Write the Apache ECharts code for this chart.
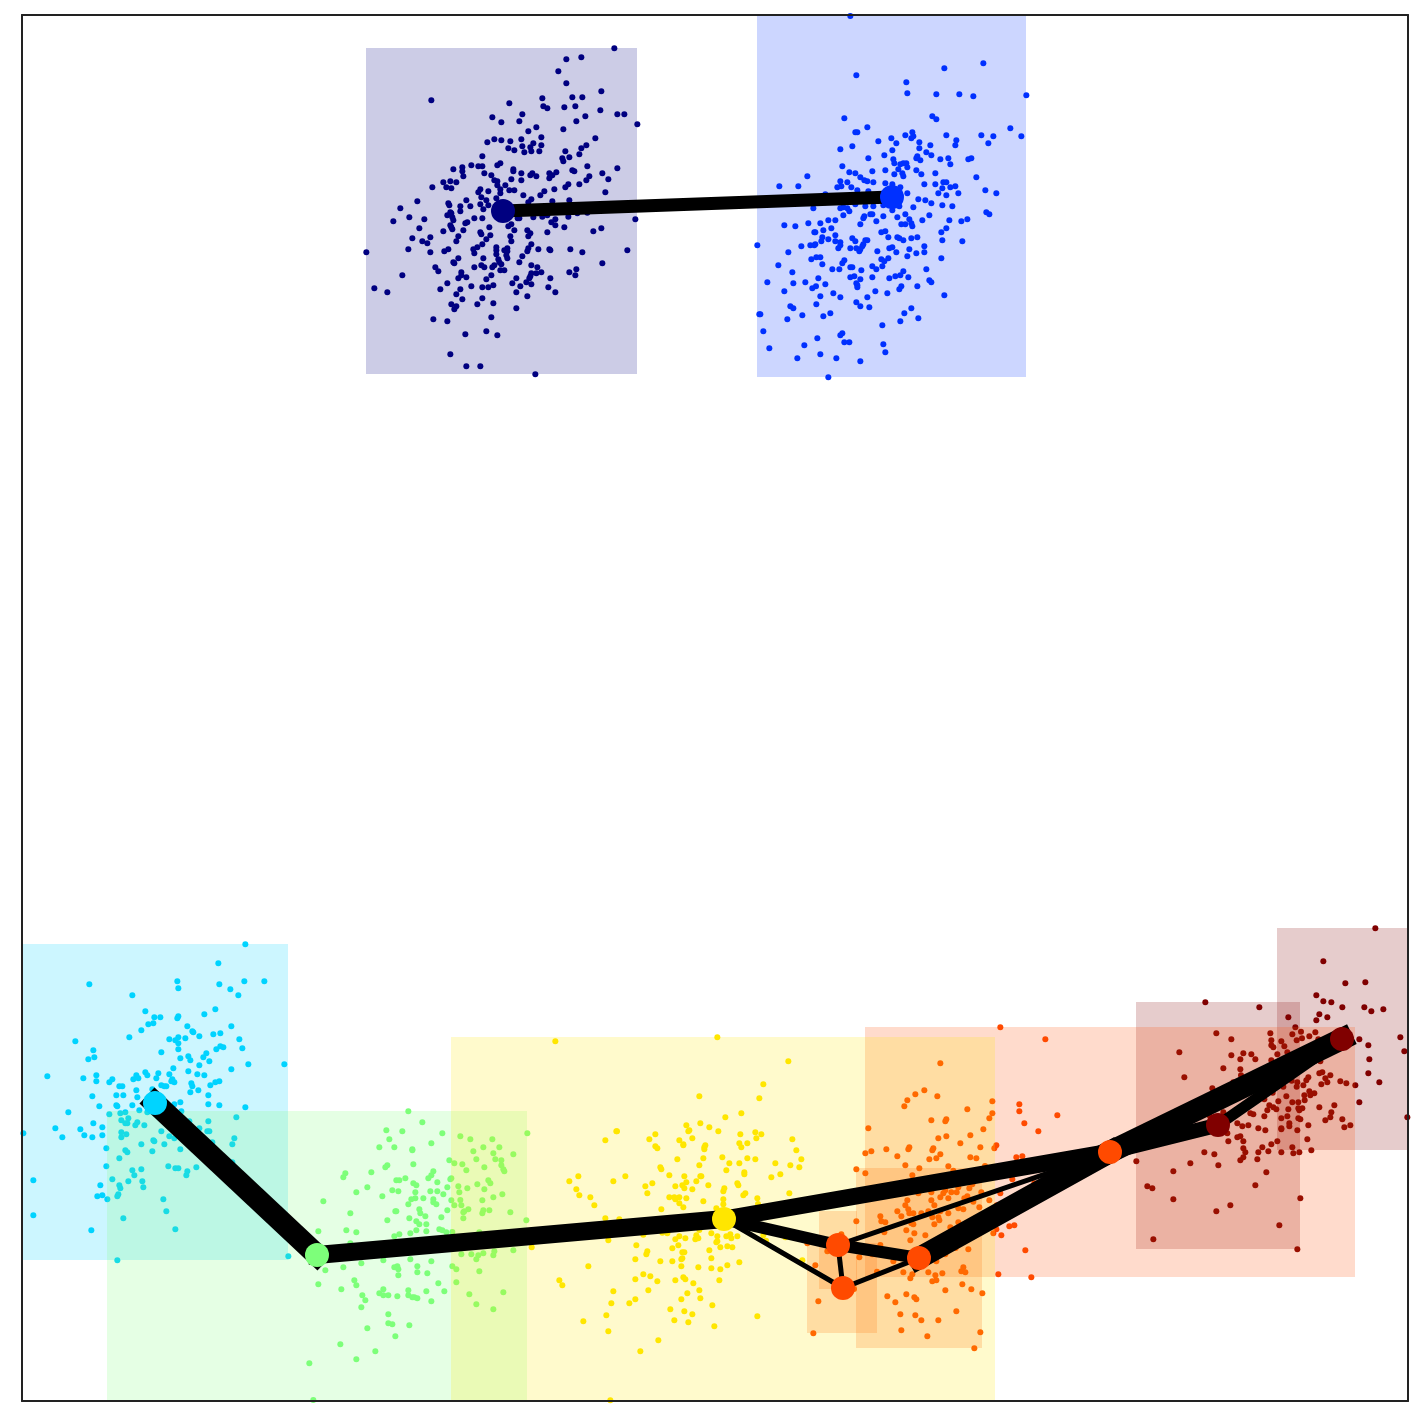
<!DOCTYPE html>
<html>
<head>
<meta charset="utf-8">
<style>html,body{margin:0;padding:0;background:#fff}#chart{width:1423px;height:1423px}</style>
<script src="https://cdn.jsdelivr.net/npm/echarts@6/dist/echarts.min.js"></script>
</head>
<body>
<div id="chart"></div>
<script>
const navyCrop = [360, 40];
const navyPoints = [[763,25],[619,58],[664,52],[595,94],[619,130],[724,154],[214,181],[448,190],[547,175],[637,172],[667,172],[550,199],[562,205],[613,202],[646,199],[721,211],[772,223],[793,223],[487,223],[397,232],[676,229],[424,247],[478,244],[649,244],[832,253],[529,262],[505,274],[610,268],[544,292],[484,298],[403,298],[424,301],[382,307],[451,304],[706,295],[544,316],[487,319],[520,310],[511,322],[445,325],[463,331],[493,337],[514,334],[538,334],[679,316],[664,325],[616,334],[658,343],[367,349],[628,352],[607,355],[610,364],[421,370],[412,376],[334,376],[355,379],[367,379],[307,382],[280,388],[682,379],[772,385],[307,394],[460,388],[460,394],[637,391],[643,394],[589,397],[568,400],[484,400],[373,400],[310,409],[394,406],[517,400],[511,406],[529,409],[577,406],[727,400],[568,415],[688,409],[745,418],[454,418],[484,421],[403,421],[412,424],[679,421],[250,427],[271,424],[289,427],[658,433],[625,433],[616,442],[412,436],[436,436],[217,442],[259,442],[274,445],[361,448],[448,451],[463,451],[583,448],[553,454],[736,457],[355,457],[421,448],[421,460],[385,454],[490,466],[541,466],[364,472],[409,475],[514,478],[172,484],[319,481],[379,481],[628,481],[577,484],[265,490],[268,496],[361,493],[385,496],[301,499],[331,499],[505,487],[121,505],[370,508],[301,514],[271,517],[274,520],[262,526],[277,532],[148,532],[343,535],[367,535],[193,538],[280,541],[100,544],[826,538],[322,547],[316,550],[271,556],[274,562],[178,565],[277,568],[250,574],[310,571],[445,559],[454,553],[388,562],[463,571],[502,571],[511,580],[505,589],[586,538],[574,547],[586,556],[613,562],[562,577],[700,574],[724,565],[361,577],[364,583],[391,586],[295,589],[157,595],[211,592],[379,598],[451,589],[187,604],[202,610],[289,604],[454,604],[367,613],[514,613],[352,622],[340,628],[145,628],[265,628],[253,634],[211,637],[343,640],[409,622],[409,631],[433,631],[442,625],[442,634],[505,625],[502,634],[535,628],[568,628],[571,631],[631,628],[667,637],[802,631],[409,643],[439,646],[442,655],[487,649],[295,655],[370,655],[415,658],[478,667],[280,667],[283,670],[418,667],[727,670],[364,676],[373,682],[343,682],[226,682],[403,676],[397,682],[424,673],[514,676],[532,682],[235,694],[304,697],[421,691],[433,691],[514,700],[529,700],[544,697],[628,697],[649,688],[646,706],[127,706],[304,706],[394,706],[511,709],[508,715],[295,715],[319,712],[379,718],[469,715],[571,715],[262,730],[457,730],[499,727],[514,733],[334,739],[367,742],[385,742],[400,736],[481,739],[565,742],[241,748],[301,748],[43,745],[82,757],[469,757],[586,757],[289,763],[502,769],[307,778],[367,775],[274,793],[352,793],[400,790],[289,799],[283,808],[469,805],[220,838],[262,844],[394,832],[316,883],[379,874],[412,886],[271,943],[319,979],[361,979],[526,1003],[19,637],[625,530],[547,530],[562,526],[520,532],[473,535],[478,535],[652,520],[682,518]];

const blueCrop = [750, 10];
const bluePoints = [[301,18],[700,160],[583,175],[319,196],[469,217],[472,250],[559,253],[628,253],[670,259],[829,256],[283,325],[547,319],[559,328],[352,352],[316,367],[322,367],[781,355],[487,367],[466,376],[589,376],[694,376],[730,379],[814,379],[424,385],[484,385],[490,379],[385,394],[439,400],[508,397],[619,391],[616,406],[715,400],[541,406],[307,409],[271,418],[427,421],[508,415],[529,427],[544,436],[403,436],[355,445],[499,445],[502,439],[511,451],[430,448],[571,448],[595,445],[655,448],[664,445],[433,460],[601,463],[277,469],[451,463],[469,460],[460,460],[472,472],[445,478],[457,490],[460,499],[367,484],[406,481],[298,487],[316,490],[433,493],[499,481],[514,493],[556,490],[172,499],[679,502],[331,502],[343,511],[352,514],[271,514],[292,517],[370,517],[88,529],[145,529],[406,520],[523,523],[556,523],[580,517],[589,517],[616,529],[262,532],[274,529],[304,532],[577,535],[601,532],[322,541],[427,523],[451,532],[706,541],[226,553],[355,544],[472,550],[565,550],[589,556],[625,550],[739,550],[505,568],[526,571],[544,580],[226,577],[577,586],[607,589],[190,595],[271,595],[280,592],[292,595],[316,583],[346,589],[370,589],[400,586],[490,592],[448,589],[427,601],[298,604],[280,616],[709,607],[718,613],[538,616],[361,613],[367,613],[466,613],[400,619],[442,622],[343,619],[340,625],[478,628],[517,631],[598,631],[634,634],[652,628],[235,631],[256,631],[379,634],[175,640],[211,640],[331,643],[454,643],[466,643],[484,640],[487,649],[103,646],[136,649],[244,655],[589,655],[220,661],[193,667],[196,667],[394,667],[406,664],[574,667],[256,676],[217,682],[415,682],[442,682],[448,685],[460,691],[484,685],[502,682],[307,685],[235,688],[214,694],[256,694],[271,697],[316,694],[346,691],[352,691],[577,691],[637,694],[181,706],[196,703],[193,706],[22,706],[154,709],[271,706],[265,715],[340,703],[337,709],[523,709],[301,715],[319,715],[331,718],[328,724],[418,715],[427,712],[382,724],[439,727],[478,718],[499,730],[523,727],[115,727],[472,739],[199,742],[211,742],[184,748],[394,748],[415,745],[283,751],[574,745],[403,754],[277,760],[217,763],[85,766],[367,769],[397,769],[247,778],[268,778],[301,772],[307,772],[379,778],[334,781],[529,778],[127,787],[460,784],[301,802],[313,799],[436,799],[451,796],[367,802],[475,802],[205,805],[331,808],[418,805],[538,811],[544,817],[52,817],[130,820],[166,817],[319,820],[226,823],[322,826],[322,832],[198,829],[187,835],[454,829],[448,838],[502,829],[103,844],[376,844],[412,850],[250,850],[211,859],[271,862],[352,862],[583,856],[319,877],[199,883],[331,889],[358,892],[121,889],[130,895],[484,895],[28,913],[31,913],[157,916],[241,910],[220,919],[463,910],[112,928],[505,925],[451,934],[397,946],[40,964],[277,970],[271,976],[202,985],[283,997],[298,997],[163,1006],[400,1003],[58,1015],[406,1027],[211,1033],[142,1045],[259,1045],[331,1054],[235,1102]];

const cyanCrop = [15, 935];
const cyanPoints = [[691,28],[610,85],[487,139],[688,139],[748,139],[223,148],[613,148],[490,160],[646,163],[670,181],[352,181],[601,223],[391,229],[568,238],[490,244],[487,250],[418,247],[436,247],[400,268],[415,265],[517,274],[649,274],[379,286],[532,289],[535,292],[595,298],[616,295],[553,304],[343,307],[463,313],[490,307],[481,316],[511,310],[490,325],[673,313],[181,319],[616,334],[625,337],[604,343],[682,340],[490,343],[235,346],[439,352],[574,355],[220,373],[238,367],[520,364],[565,367],[496,370],[526,376],[583,379],[700,388],[808,388],[553,391],[475,400],[649,403],[391,412],[520,409],[397,421],[364,421],[430,415],[463,418],[547,418],[568,421],[97,424],[244,421],[205,430],[355,433],[370,430],[424,430],[292,433],[283,442],[244,439],[472,433],[469,439],[478,442],[529,445],[532,454],[601,442],[613,439],[586,451],[439,451],[448,454],[454,454],[313,454],[322,454],[364,466],[550,466],[526,472],[412,463],[232,484],[304,481],[325,481],[367,487],[580,481],[352,511],[253,514],[304,511],[307,514],[496,502],[580,508],[613,511],[691,517],[373,526],[160,532],[478,508],[316,535],[331,532],[283,538],[397,532],[499,529],[664,547],[340,550],[319,556],[235,565],[331,565],[337,565],[367,562],[361,571],[388,571],[580,559],[523,559],[121,580],[196,583],[262,577],[25,595],[208,601],[232,607],[262,601],[142,607],[319,592],[334,598],[319,607],[439,589],[463,604],[478,610],[553,580],[577,589],[583,589],[658,610],[652,628],[274,640],[415,616],[418,619],[379,628],[448,628],[412,649],[496,643],[331,646],[337,652],[313,670],[274,694],[460,694],[481,700],[490,700],[544,697],[352,706],[379,703],[517,709],[514,721],[358,721],[292,733],[340,739],[382,739],[55,736],[313,751],[316,760],[256,751],[385,757],[310,778],[307,784],[247,784],[262,781],[277,793],[445,793],[454,829],[55,841],[325,850],[229,886],[481,883],[307,976],[820,964],[652,682],[592,622]];

const greenCrop = [290, 1100];
const greenPoints = [[355,34],[397,67],[289,91],[337,94],[457,100],[712,100],[511,109],[541,118],[298,118],[607,118],[424,130],[268,142],[313,142],[367,148],[367,151],[580,142],[628,142],[550,154],[610,160],[670,163],[559,178],[616,178],[478,181],[634,181],[493,190],[370,193],[517,193],[634,196],[292,196],[286,202],[583,202],[640,208],[643,214],[529,211],[244,217],[166,220],[160,232],[430,214],[424,226],[415,235],[346,235],[319,241],[328,241],[484,235],[481,238],[442,247],[595,241],[601,250],[370,250],[379,256],[562,253],[232,262],[505,259],[472,262],[532,265],[583,268],[307,271],[325,274],[376,277],[421,274],[442,274],[508,277],[199,277],[277,289],[460,283],[637,283],[376,295],[364,298],[400,295],[430,298],[484,301],[511,300],[610,292],[577,301],[100,304],[355,313],[430,307],[439,313],[493,316],[514,316],[388,328],[472,331],[535,328],[580,331],[598,331],[316,334],[319,334],[391,340],[181,340],[661,337],[520,337],[523,334],[577,340],[406,349],[454,352],[358,355],[292,361],[520,355],[379,364],[388,373],[409,373],[709,361],[85,394],[169,391],[199,397],[379,391],[409,394],[448,388],[457,391],[469,397],[487,396],[361,400],[328,403],[313,409],[568,397],[181,430],[514,463],[544,463],[565,466],[559,478],[580,460],[610,466],[613,454],[670,451],[214,490],[280,481],[361,478],[424,484],[160,502],[487,499],[499,508],[322,499],[313,502],[325,508],[382,499],[382,517],[412,520],[568,514],[106,511],[325,526],[193,541],[85,553],[199,556],[445,550],[499,547],[154,568],[280,568],[268,580],[280,586],[295,586],[217,586],[322,589],[355,571],[355,586],[367,592],[373,592],[382,595],[409,574],[463,574],[538,583],[640,577],[226,601],[424,604],[559,613],[214,622],[610,628],[295,643],[295,670],[307,673],[358,676],[232,685],[316,709],[151,733],[256,754],[199,778],[58,790],[70,900]];

const yellowCrop = [530, 1030];
const yellowPoints = [[76,34],[562,22],[775,94],[700,163],[688,205],[508,199],[634,250],[586,262],[469,286],[511,280],[538,292],[475,304],[478,301],[565,304],[631,313],[676,307],[694,313],[261,304],[259,304],[226,331],[376,313],[358,328],[448,331],[487,325],[679,325],[787,328],[628,340],[652,340],[634,352],[460,343],[460,346],[526,346],[523,352],[523,358],[376,349],[382,355],[799,361],[442,388],[520,385],[577,382],[652,385],[676,388],[814,388],[598,400],[628,400],[736,400],[781,406],[808,412],[508,406],[391,412],[394,418],[589,421],[643,427],[643,433],[751,433],[724,442],[418,436],[463,439],[511,439],[514,439],[145,439],[286,439],[118,454],[250,454],[499,454],[469,457],[367,460],[622,460],[625,466],[346,469],[436,469],[457,466],[463,475],[535,466],[487,478],[139,478],[583,475],[580,484],[352,490],[778,490],[148,496],[646,490],[640,496],[181,502],[418,502],[433,502],[436,508],[448,502],[469,505],[580,508],[682,505],[520,514],[448,520],[580,523],[193,526],[684,522],[460,532],[394,538],[559,535],[226,565],[268,568],[235,631],[5,652],[319,646],[340,614],[397,608],[412,610],[508,600],[544,610],[448,619],[436,628],[466,625],[499,616],[496,628],[505,625],[562,619],[589,619],[601,613],[604,625],[622,619],[700,616],[766,622],[559,637],[562,634],[445,646],[427,655],[571,652],[592,649],[607,652],[352,664],[349,673],[457,667],[463,667],[538,661],[316,688],[391,694],[427,694],[457,685],[454,688],[544,685],[817,691],[628,697],[175,709],[454,709],[505,712],[544,715],[571,718],[592,706],[340,733],[361,739],[316,748],[436,751],[382,754],[460,742],[466,748],[568,751],[88,751],[97,766],[490,760],[250,784],[355,781],[508,781],[472,790],[316,808],[454,808],[511,805],[298,820],[244,820],[547,826],[421,838],[463,844],[487,853],[229,856],[682,859],[160,874],[433,871],[475,877],[553,889],[235,904],[385,931],[331,964],[241,1111],[708,632]];

const orangeCrop = [800, 1020];
const orangePoints = [[601,22],[736,58],[421,130],[373,211],[346,223],[322,241],[412,229],[313,259],[577,244],[658,253],[658,274],[502,268],[577,280],[772,286],[568,295],[394,301],[439,298],[436,304],[673,310],[205,325],[550,328],[715,334],[511,346],[439,349],[415,355],[481,370],[589,376],[583,385],[541,382],[259,388],[328,382],[325,388],[400,385],[397,391],[196,400],[214,394],[292,409],[421,403],[388,418],[409,415],[511,412],[529,415],[649,412],[667,409],[316,436],[358,445],[445,439],[169,448],[196,460],[460,452],[555,438],[337,466],[637,478],[703,490],[517,493],[508,505],[475,502],[436,511],[454,517],[470,517],[430,520],[355,520],[394,517],[601,520],[421,532],[445,535],[493,535],[502,529],[544,517],[322,541],[394,541],[568,541],[520,545],[316,556],[403,556],[538,562],[590,556],[292,574],[325,568],[328,580],[340,580],[475,565],[490,568],[304,589],[364,580],[385,574],[445,580],[421,574],[241,589],[397,592],[415,592],[244,604],[256,607],[418,601],[169,604],[334,610],[340,613],[403,613],[475,607],[451,622],[319,631],[343,640],[589,628],[628,619],[643,616],[580,640],[604,646],[253,637],[376,646],[331,661],[124,643],[22,670],[241,675],[467,684],[505,688],[676,691],[82,694],[217,703],[436,703],[178,712],[280,724],[409,724],[46,736],[231,755],[310,757],[337,763],[331,775],[385,757],[406,766],[427,760],[484,754],[490,742],[496,757],[595,763],[694,772],[397,784],[409,781],[487,793],[514,808],[436,811],[162,807],[547,820],[319,823],[262,829],[343,832],[349,838],[55,844],[286,847],[469,874],[301,883],[346,886],[364,901],[415,901],[304,931],[40,940],[541,937],[382,949],[523,985],[370,680]];

const darkRedCrop = [1130, 920];
const darkRedPoints = [[736,25],[580,124],[646,190],[706,187],[559,226],[580,244],[604,247],[226,247],[388,262],[637,262],[703,262],[724,274],[760,268],[568,283],[592,292],[475,292],[559,301],[496,322],[513,335],[421,340],[487,343],[556,337],[259,340],[304,358],[424,361],[538,349],[516,355],[500,361],[565,358],[454,364],[688,358],[811,352],[424,376],[430,382],[463,379],[715,376],[148,397],[472,397],[823,394],[442,403],[340,400],[364,403],[304,406],[331,418],[376,418],[424,421],[718,418],[571,424],[280,445],[331,448],[333,466],[163,472],[715,460],[568,460],[577,457],[601,466],[535,472],[586,475],[748,487],[529,481],[592,487],[631,484],[649,490],[676,496],[574,493],[502,487],[485,482],[520,496],[460,500],[310,487],[247,505],[500,500],[538,514],[553,520],[541,526],[523,526],[469,529],[428,518],[403,538],[524,541],[445,544],[487,547],[505,547],[688,547],[613,556],[418,556],[568,562],[430,562],[439,568],[412,571],[475,568],[505,565],[517,565],[508,571],[361,580],[370,583],[604,577],[403,589],[472,589],[454,595],[505,595],[511,598],[601,592],[586,601],[637,598],[832,592],[238,586],[280,577],[322,610],[337,619],[355,616],[478,610],[478,619],[535,616],[643,622],[661,616],[385,625],[406,631],[454,625],[454,628],[502,631],[292,640],[322,652],[331,649],[340,664],[295,664],[442,664],[532,658],[424,673],[397,682],[487,682],[340,685],[346,697],[385,697],[415,694],[454,697],[490,700],[508,697],[544,691],[223,697],[253,703],[340,712],[331,721],[382,718],[19,724],[181,730],[265,736],[130,754],[409,757],[52,799],[67,805],[376,796],[130,838],[511,835],[301,856],[259,874],[448,916],[70,958],[502,988]];

// Cluster boxes: [xFrom, yFrom, xTo, yTo]
const navyBox = [[366,48,637,374]];
const blueBox = [[757,0,1026,377]];
const cyanBox = [[0,944,288,1260]];
const greenBox = [[107,1111,527,1500]];
const yellowBox = [[451,1037,995,1500]];
const orangeBoxes = [[865,1027,1355,1277],[856,1168,982,1348],[807,1243,877,1333],[819,1211,857,1289]];
const darkRedBoxes = [[1136,1002,1300,1249],[1277,928,1500,1150]];

// Graph nodes and edges
const nodeNavy=[503,211], nodeBlue=[892,197], nodeCyan=[155,1103], nodeGreen=[317,1255], nodeYellow=[724,1219],
      nodeA=[838,1245], nodeB=[919,1258], nodeC=[843,1288], nodeD=[1110,1152], nodeE=[1218,1125], nodeF=[1342,1039];
const edges = [
  [nodeNavy,nodeBlue,13],[nodeCyan,nodeGreen,22],[nodeGreen,nodeYellow,18],[nodeYellow,nodeD,17],
  [nodeYellow,nodeA,12],[nodeYellow,nodeC,5],[nodeA,nodeB,12],[nodeA,nodeC,5],[nodeC,nodeB,5],
  [nodeA,nodeD,5],[nodeB,nodeD,22],[nodeD,nodeE,15],[nodeD,nodeF,22],[nodeE,nodeF,11]
];

const COL = {navy:'#000080',blue:'#0030ff',cyan:'#00d4ff',green:'#7dff7a',yellow:'#ffe600',orange:'#ff4a00',red:'#800000'};
// Drawing order, bottom to top, as the overlaps in the picture show it
const layers = [
  [darkRedPoints,darkRedCrop,darkRedBoxes,COL.red],
  [orangePoints,orangeCrop,orangeBoxes,COL.orange],
  [navyPoints,navyCrop,navyBox,COL.navy],
  [bluePoints,blueCrop,blueBox,COL.blue],
  [cyanPoints,cyanCrop,cyanBox,COL.cyan],
  [greenPoints,greenCrop,greenBox,COL.green],
  [yellowPoints,yellowCrop,yellowBox,COL.yellow]
];
const nodeSets = [
  [[nodeNavy],COL.navy],[[nodeBlue],COL.blue],[[nodeCyan],COL.cyan],[[nodeGreen],COL.green],[[nodeYellow],COL.yellow],
  [[nodeA,nodeB,nodeC,nodeD],COL.orange],[[nodeE,nodeF],COL.red]
];

const series = [];
let z = 2;
layers.forEach(([pts,crop,boxes,color])=>{
  series.push({type:'scatter',z:z++,silent:true,clip:true,symbolSize:6,itemStyle:{color,opacity:1},
    data:pts.map(p=>[crop[0]+p[0]/3,crop[1]+p[1]/3])});
  series.push({type:'custom',z:z++,silent:true,clip:true,data:boxes,
    encode:{x:[0,2],y:[1,3]},
    renderItem:(params,api)=>{
      const a=api.coord([api.value(0),api.value(1)]), b=api.coord([api.value(2),api.value(3)]);
      const cs=params.coordSys;
      const shape=echarts.graphic.clipRectByRect({x:a[0],y:a[1],width:b[0]-a[0],height:b[1]-a[1]},
        {x:cs.x,y:cs.y,width:cs.width,height:cs.height});
      return shape?{type:'rect',shape,style:{fill:color,opacity:0.2}}:null;
    }});
});
edges.forEach(([p,q,w])=>{
  series.push({type:'line',z:40,silent:true,clip:true,showSymbol:false,symbol:'none',data:[p,q],
    lineStyle:{color:'#000',width:w,cap:'square',join:'miter'}});
});
nodeSets.forEach(([pts,color])=>{
  series.push({type:'scatter',z:50,silent:true,clip:true,symbolSize:24,itemStyle:{color,opacity:1},data:pts});
});

const spine = {show:true,onZero:false,lineStyle:{color:'#222',width:2}};
const hidden = {axisTick:{show:false},axisLabel:{show:false},splitLine:{show:false},axisLine:spine,z:100};
const chart = echarts.init(document.getElementById('chart'),null,{renderer:'canvas'});
chart.setOption({
  animation:false,
  backgroundColor:'#ffffff',
  grid:{left:22,top:15,width:1386,height:1386,containLabel:false},
  xAxis:[
    Object.assign({type:'value',min:22,max:1408,position:'bottom'},hidden),
    Object.assign({type:'value',min:22,max:1408,position:'top'},hidden)
  ],
  yAxis:[
    Object.assign({type:'value',min:15,max:1401,inverse:true,position:'left'},hidden),
    Object.assign({type:'value',min:15,max:1401,inverse:true,position:'right'},hidden)
  ],
  series
});
</script>
</body>
</html>
